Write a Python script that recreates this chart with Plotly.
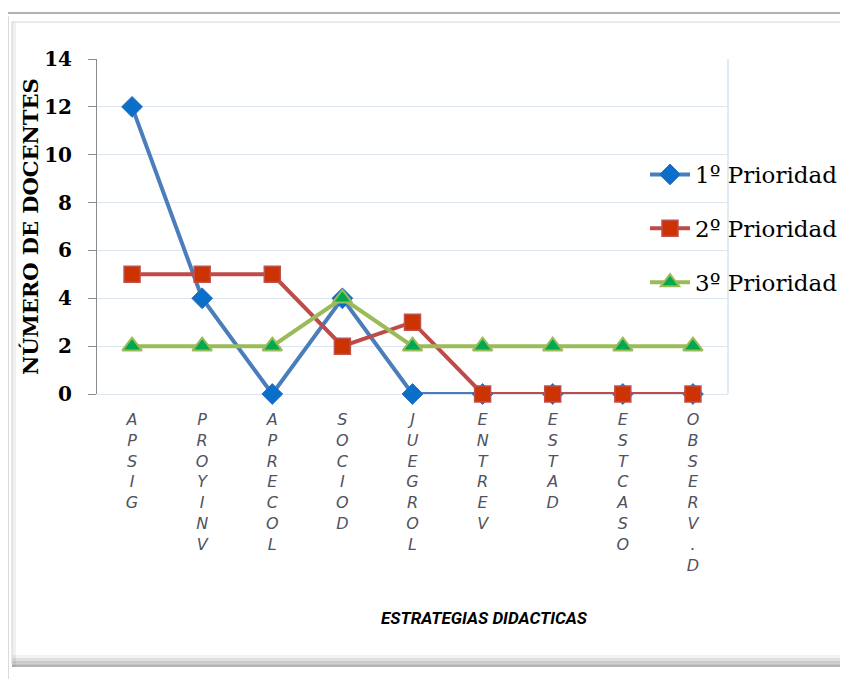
import plotly.graph_objects as go

# ---- data ----
categorias = ["APSIG", "PROYINV", "APRECOL", "SOCIOD", "JUEGROL", "ENTREV", "ESTAD", "ESTCASO", "OBSERV.D"]
prioridad_1 = [12, 4, 0, 4, 0, 0, 0, 0, 0]
prioridad_2 = [5, 5, 5, 2, 3, 0, 0, 0, 0]
prioridad_3 = [2, 2, 2, 4, 2, 2, 2, 2, 2]
nombres = ["1º Prioridad", "2º Prioridad", "3º Prioridad"]
y_ticks = [0, 2, 4, 6, 8, 10, 12, 14]
titulo_y = "NÚMERO DE DOCENTES"
titulo_x = "ESTRATEGIAS DIDACTICAS"

# page offset (browser body margin)
OX, OY = 8, 8
W, H = 848 - OX, 679 - OY
# plot area in screenshot pixels
L, R, T, B = 97, 728, 59, 394


def px(x):
    return (x - L) / (R - L)


def py(y):
    return (B - y) / (B - T)


ticktext = ["<i>" + "<br>".join(list(c)) + "</i>" for c in categorias]

fig = go.Figure()

estilos = [
    dict(line=dict(color="#4a7ebb", width=4),
         marker=dict(symbol="diamond", size=16, color="#0a6fc8", line=dict(color="#2f6fbf", width=1))),
    dict(line=dict(color="#be4b48", width=4),
         marker=dict(symbol="square", size=16, color="#cc3300", line=dict(color="#c0504d", width=1.5))),
    dict(line=dict(color="#9bbb59", width=4),
         marker=dict(symbol="triangle-up", size=17, color="#00a84f", line=dict(color="#9bbb59", width=2))),
]
for nombre, vals, est, g in zip(nombres, [prioridad_1, prioridad_2, prioridad_3], estilos, ["a", "b", "c"]):
    fig.add_trace(go.Scatter(x=categorias, y=vals, name=nombre, mode="lines+markers",
                             legendgroup=g, cliponaxis=False, **est))

shapes = []
# outer frame lines
shapes.append(dict(type="rect", xref="paper", yref="paper", x0=px(4), x1=px(900), y0=py(13), y1=py(720),
                   line=dict(color="#9a9a9a", width=1.5), layer="below"))
shapes.append(dict(type="line", xref="paper", yref="paper", x0=px(8), x1=px(8), y0=py(16), y1=py(720),
                   line=dict(color="#b5b5b5", width=1), layer="below"))
# inner box shadow
for i, a in enumerate([0.05, 0.07, 0.09, 0.11]):
    shapes.append(dict(type="rect", xref="paper", yref="paper", x0=px(12), x1=px(848),
                       y0=py(655 + i * 3), y1=py(667), fillcolor="rgba(0,0,0,%g)" % a, line=dict(width=0),
                       layer="below"))
shapes.append(dict(type="rect", xref="paper", yref="paper", x0=px(12), x1=px(16), y0=py(22), y1=py(667),
                   fillcolor="rgba(0,0,0,0.06)", line=dict(width=0), layer="below"))
shapes.append(dict(type="rect", xref="paper", yref="paper", x0=px(12), x1=px(848), y0=py(22), y1=py(664),
                   line=dict(color="#d4d4d4", width=1), layer="below"))
# plot area right border
shapes.append(dict(type="line", xref="paper", yref="paper", x0=1, x1=1, y0=0, y1=1,
                   line=dict(color="#d6e4f0", width=1.5), layer="below"))

fig.update_layout(
    width=W, height=H,
    margin=dict(l=L - OX, r=848 - R, t=T - OY, b=679 - B, autoexpand=False),
    paper_bgcolor="white", plot_bgcolor="white",
    shapes=shapes,
    showlegend=True,
    legend=dict(x=px(645), y=py(153), xanchor="left", yanchor="top",
                bgcolor="rgba(0,0,0,0)", font=dict(family="DejaVu Serif", size=23, color="#000"),
                tracegroupgap=21, traceorder="grouped", itemwidth=40),
    xaxis=dict(range=[-0.5, 8.5], tickmode="array", tickvals=categorias, ticktext=ticktext,
               showgrid=False, zeroline=False, showline=False, ticks="",
               tickfont=dict(family="DejaVu Sans", size=16, color="#50535f"),
               ticklabelstandoff=14),
    yaxis=dict(range=[0, 14], tickvals=y_ticks, showgrid=True, gridcolor="#dbe6f1", gridwidth=1,
               zeroline=True, zerolinecolor="#dbe6f1", zerolinewidth=1,
               showline=True, linecolor="#8c8c8c", linewidth=1,
               ticks="outside", ticklen=8, tickcolor="#8c8c8c",
               tickfont=dict(family="DejaVu Serif", size=20, color="#000", weight="bold"),
               ticklabelstandoff=12),
    annotations=[
        dict(text="<b>" + titulo_y + "</b>", xref="paper", yref="paper", x=px(30), y=py(227),
             xanchor="center", yanchor="middle",
             textangle=-90, showarrow=False, font=dict(family="DejaVu Serif", size=21, color="#000")),
        dict(text="<b><i>" + titulo_x + "</i></b>", xref="paper", yref="paper", x=px(484), y=py(618),
             xanchor="center", yanchor="middle",
             showarrow=False, font=dict(family="Liberation Sans Narrow, Roboto", size=17, color="#000")),
    ],
)

fig.write_html("out.html")
